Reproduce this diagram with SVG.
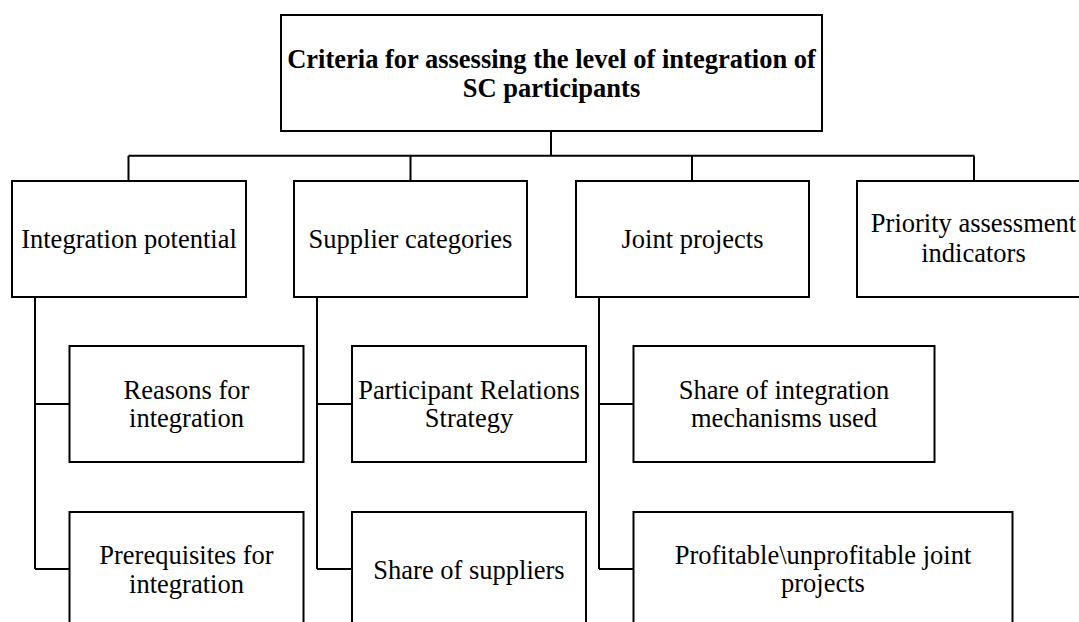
<svg xmlns="http://www.w3.org/2000/svg" width="1079" height="622" viewBox="0 0 1079 622">
  <style>
    .box { fill: #ffffff; stroke: #000000; stroke-width: 2; }
    .wire { fill: none; stroke: #000000; stroke-width: 2; }
    .label { font-family: 'Liberation Serif', 'Times New Roman', Times, 'DejaVu Serif', serif; font-size: 26.5px; fill: #000000; text-anchor: middle; }
    .title { font-weight: bold; }
  </style>
  <rect width="1079" height="622" fill="#ffffff"/>

  <!-- connectors -->
  <g id="connectors">
    <path class="wire" d="M551 131 V155.7"/>
    <path class="wire" d="M128.5 155.7 H974.3"/>
    <path class="wire" d="M128.5 155.7 V181 M410.5 155.7 V181 M692 155.7 V181 M974 155.7 V181"/>
    <path class="wire" d="M35 297 V569 M35 404 H69.5 M35 569 H69.5"/>
    <path class="wire" d="M317 297 V569 M317 404 H352 M317 569 H352"/>
    <path class="wire" d="M599 297 V569 M599 404 H633.5 M599 569 H633.5"/>
  </g>

  <g class="label">
    <!-- root -->
    <g id="root">
      <rect class="box" x="281" y="15" width="541" height="116"/>
      <text class="title" x="551.5" y="68">Criteria for assessing the level of integration of</text>
      <text class="title" x="551.5" y="96.5">SC participants</text>
    </g>

    <!-- first level -->
    <g id="integration-potential">
      <rect class="box" x="12" y="181" width="234" height="116"/>
      <text x="129" y="248">Integration potential</text>
    </g>
    <g id="supplier-categories">
      <rect class="box" x="294" y="181" width="233" height="116"/>
      <text x="410.5" y="248">Supplier categories</text>
    </g>
    <g id="joint-projects">
      <rect class="box" x="576" y="181" width="233" height="116"/>
      <text x="692.5" y="248">Joint projects</text>
    </g>
    <g id="priority-indicators">
      <rect class="box" x="857" y="181" width="233" height="116"/>
      <text x="973.5" y="232">Priority assessment</text>
      <text x="973.5" y="261.5">indicators</text>
    </g>

    <!-- second level -->
    <g id="reasons">
      <rect class="box" x="69.5" y="346" width="234" height="116"/>
      <text x="186.5" y="399">Reasons for</text>
      <text x="186.5" y="427">integration</text>
    </g>
    <g id="prerequisites">
      <rect class="box" x="69.5" y="512" width="234" height="116"/>
      <text x="186.5" y="564">Prerequisites for</text>
      <text x="186.5" y="593">integration</text>
    </g>
    <g id="relations-strategy">
      <rect class="box" x="352" y="346" width="234" height="116"/>
      <text x="469" y="399">Participant Relations</text>
      <text x="469" y="427">Strategy</text>
    </g>
    <g id="share-suppliers">
      <rect class="box" x="352" y="512" width="234" height="116"/>
      <text x="469" y="578.5">Share of suppliers</text>
    </g>
    <g id="share-mechanisms">
      <rect class="box" x="633.5" y="346" width="301" height="116"/>
      <text x="784" y="399">Share of integration</text>
      <text x="784" y="427">mechanisms used</text>
    </g>
    <g id="profitable-projects">
      <rect class="box" x="633.5" y="512" width="379" height="116"/>
      <text x="823" y="564">Profitable\unprofitable joint</text>
      <text x="823" y="592">projects</text>
    </g>
  </g>
</svg>
